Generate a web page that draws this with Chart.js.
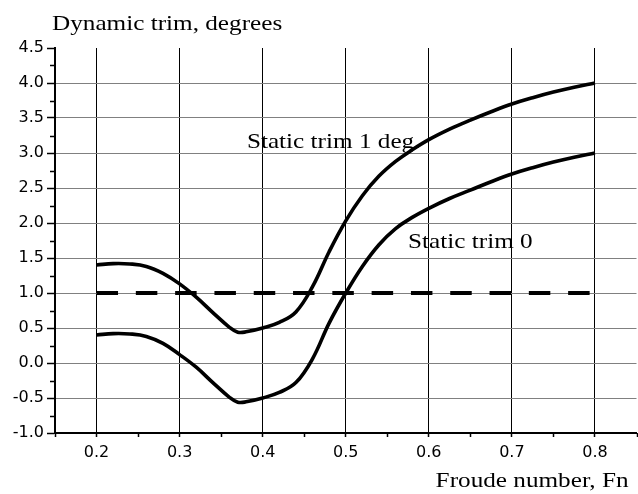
<!DOCTYPE html>
<html>
<head>
<meta charset="utf-8">
<script src="https://cdn.jsdelivr.net/npm/chart.js@4.4.1/dist/chart.umd.min.js"></script>
<style>
  html, body { margin: 0; padding: 0; background: #fff; }
  #box { width: 638px; height: 494px; }
</style>
</head>
<body>
<div id="box"><canvas id="trim"></canvas></div>
<script>
// Froude number for the two curves
const fnTrim1 = [0.20, 0.22, 0.24, 0.26, 0.28, 0.30, 0.32, 0.34, 0.36, 0.37, 0.38, 0.40, 0.42, 0.44, 0.46, 0.48, 0.50, 0.52, 0.54, 0.56, 0.58, 0.60, 0.625, 0.65, 0.675, 0.70, 0.725, 0.75, 0.775, 0.80];
const trim1 = [1.40, 1.42, 1.415, 1.38, 1.28, 1.13, 0.94, 0.72, 0.51, 0.44, 0.445, 0.50, 0.58, 0.73, 1.09, 1.59, 2.03, 2.39, 2.67, 2.88, 3.045, 3.19, 3.34, 3.47, 3.59, 3.70, 3.79, 3.87, 3.94, 4.00];

const fnTrim0 = [0.20, 0.22, 0.24, 0.26, 0.28, 0.30, 0.32, 0.34, 0.36, 0.37, 0.38, 0.40, 0.42, 0.44, 0.46, 0.48, 0.50, 0.52, 0.54, 0.56, 0.58, 0.60, 0.625, 0.65, 0.675, 0.70, 0.725, 0.75, 0.775, 0.80];
const trim0 = [0.40, 0.42, 0.415, 0.38, 0.28, 0.12, -0.06, -0.28, -0.49, -0.56, -0.555, -0.50, -0.42, -0.28, 0.06, 0.57, 1.00, 1.38, 1.69, 1.92, 2.08, 2.21, 2.35, 2.47, 2.59, 2.70, 2.79, 2.87, 2.94, 3.00];

// dashed reference line (static trim level)
const fnRef = [0.2, 0.8];
const trimRef = [1.0, 1.0];

// ticks
const xTicks = [0.2, 0.3, 0.4, 0.5, 0.6, 0.7, 0.8];
const xMinor = [0.15, 0.25, 0.35, 0.45, 0.55, 0.65, 0.75, 0.85];
const yTicks = [-1.0, -0.5, 0.0, 0.5, 1.0, 1.5, 2.0, 2.5, 3.0, 3.5, 4.0, 4.5];
const yMinor = [-0.75, -0.25, 0.25, 0.75, 1.25, 1.75, 2.25, 2.75, 3.25, 3.75, 4.25];

// texts
const yTitle = 'Dynamic trim, degrees';
const xTitle = 'Froude number, Fn';
const curveLabels = [
  { text: 'Static trim 1 deg.', x: 0.381, y: 3.07 },
  { text: 'Static trim 0', x: 0.575, y: 1.64 },
];

function toPoints(xs, ys) {
  return xs.map((x, i) => ({ x: x, y: ys[i] }));
}

const serif = '21px "Liberation Serif", "Times New Roman", serif';
const stretch = 1.2;

function stretchedText(ctx, text, x, y, align) {
  ctx.save();
  ctx.translate(x, y);
  ctx.scale(stretch, 1);
  ctx.textAlign = align || 'left';
  ctx.textBaseline = 'alphabetic';
  ctx.fillText(text, 0, 0);
  ctx.restore();
}

const extras = {
  id: 'extras',
  afterDraw(chart) {
    const { ctx, chartArea, scales } = chart;
    ctx.save();
    ctx.strokeStyle = '#000';
    ctx.lineWidth = 1.5;
    // minor ticks
    ctx.beginPath();
    for (const v of yMinor) {
      const py = Math.round(scales.y.getPixelForValue(v)) + 0.5;
      ctx.moveTo(chartArea.left - 5, py);
      ctx.lineTo(chartArea.left, py);
    }
    for (const v of xMinor) {
      const px = Math.round(scales.x.getPixelForValue(v)) + 0.5;
      ctx.moveTo(px, chartArea.bottom);
      ctx.lineTo(px, chartArea.bottom + 4);
    }
    ctx.stroke();

    ctx.fillStyle = '#000';
    ctx.font = serif;
    stretchedText(ctx, yTitle, chartArea.left - 3, chartArea.top - 18);
    stretchedText(ctx, xTitle, chartArea.right - 8, chartArea.bottom + 54, 'right');
    for (const lab of curveLabels) {
      stretchedText(ctx, lab.text, scales.x.getPixelForValue(lab.x), scales.y.getPixelForValue(lab.y));
    }
    ctx.restore();
  },
};

const tickFont = { family: '"DejaVu Sans", sans-serif', size: 16 };

new Chart(document.getElementById('trim'), {
  type: 'line',
  data: {
    datasets: [
      {
        data: toPoints(fnTrim1, trim1),
        borderColor: '#000',
        borderWidth: 3.6,
        pointRadius: 0,
        tension: 0.4,
      },
      {
        data: toPoints(fnTrim0, trim0),
        borderColor: '#000',
        borderWidth: 3.6,
        pointRadius: 0,
        tension: 0.4,
      },
      {
        data: toPoints(fnRef, trimRef),
        borderColor: '#000',
        borderWidth: 4,
        borderDash: [21.5, 17.8],
        pointRadius: 0,
      },
    ],
  },
  options: {
    responsive: true,
    maintainAspectRatio: false,
    animation: false,
    layout: { padding: { top: 48, right: 1.5, left: 0, bottom: 0 } },
    plugins: {
      legend: { display: false },
      tooltip: { enabled: false },
    },
    scales: {
      x: {
        type: 'linear',
        min: 0.15,
        max: 0.85,
        afterBuildTicks: (s) => { s.ticks = xTicks.map((v) => ({ value: v })); },
        afterFit: (s) => { s.height = 61; },
        border: { color: '#000', width: 2 },
        grid: { color: '#000', lineWidth: 1, tickLength: 4, tickColor: '#000', tickWidth: 1.5 },
        ticks: {
          color: '#000',
          font: tickFont,
          padding: 6,
          maxRotation: 0,
          callback: (v) => v.toFixed(1),
        },
      },
      y: {
        min: -1,
        max: 4.5,
        afterBuildTicks: (s) => { s.ticks = yTicks.map((v) => ({ value: v })); },
        afterFit: (s) => { s.width = 55; },
        border: { color: '#000', width: 2 },
        grid: {
          color: (c) => (c.tick && c.tick.value === 4.5 ? 'rgba(0,0,0,0)' : '#808080'),
          lineWidth: 1,
          tickLength: 8,
          tickColor: '#000',
          tickWidth: 1.5,
        },
        ticks: {
          color: '#000',
          font: tickFont,
          padding: 3,
          callback: (v) => v.toFixed(1),
        },
      },
    },
  },
  plugins: [extras],
});
</script>
</body>
</html>
